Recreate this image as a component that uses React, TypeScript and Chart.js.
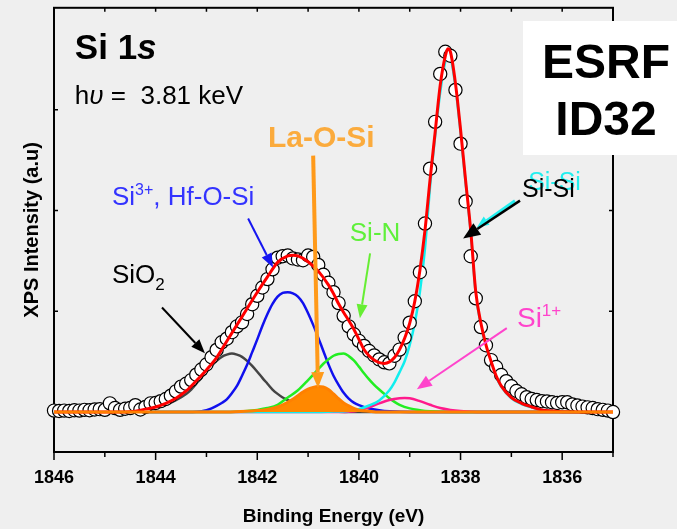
import React, { useEffect, useRef } from 'react';
import { Chart, registerables } from 'chart.js';

Chart.register(...registerables);

const FONT = '"Liberation Sans", Arial, Helvetica, sans-serif';

// ---- measured spectrum (binding energy in eV, intensity in a.u.) ----
const dataEnergies = [
  1846.0, 1845.9, 1845.8, 1845.7, 1845.6, 1845.5, 1845.4, 1845.3, 1845.2, 1845.1,
  1845.0, 1844.9, 1844.8, 1844.7, 1844.6, 1844.5, 1844.4, 1844.3, 1844.2, 1844.1,
  1844.0, 1843.9, 1843.8, 1843.7, 1843.6, 1843.5, 1843.4, 1843.3, 1843.2, 1843.1,
  1843.0, 1842.9, 1842.8, 1842.7, 1842.6, 1842.5, 1842.4, 1842.3, 1842.2, 1842.1,
  1842.0, 1841.9, 1841.8, 1841.7, 1841.6, 1841.5, 1841.4, 1841.3, 1841.2, 1841.1,
  1841.0, 1840.9, 1840.8, 1840.7, 1840.6, 1840.5, 1840.4, 1840.3, 1840.2, 1840.1,
  1840.0, 1839.9, 1839.8, 1839.7, 1839.6, 1839.5, 1839.4, 1839.3, 1839.2, 1839.1,
  1839.0, 1838.9, 1838.8, 1838.7, 1838.6, 1838.5, 1838.4, 1838.3, 1838.2, 1838.1,
  1838.0, 1837.9, 1837.8, 1837.7, 1837.6, 1837.5, 1837.4, 1837.3, 1837.2, 1837.1,
  1837.0, 1836.9, 1836.8, 1836.7, 1836.6, 1836.5, 1836.4, 1836.3, 1836.2, 1836.1,
  1836.0, 1835.9, 1835.8, 1835.7, 1835.6, 1835.5, 1835.4, 1835.3, 1835.2, 1835.1,
  1835.0,
];
const dataCounts = [
  4, 3, 4, 3, 5, 4, 6, 5, 7, 8,
  6, 24, 11, 6, 9, 11, 19, 7, 14, 24,
  25, 30, 36, 45, 57, 70, 78, 88, 103, 117,
  131, 151, 171, 192, 202, 220, 236, 247, 270, 297,
  320, 343, 366, 393, 425, 429, 431, 423, 420, 418,
  431, 427, 405, 378, 356, 330, 300, 265, 236, 214,
  196, 182, 168, 156, 145, 137, 134, 155, 172, 205,
  246, 305, 385, 519, 670, 799, 931, 992, 981, 887,
  739, 580, 429, 313, 234, 184, 143, 124, 102, 85,
  71, 58, 49, 41, 36, 33, 30, 29, 27, 25,
  27, 27, 21, 18, 15, 13, 11, 8, 6, 4,
  0,
];

// ---- total fit (red) ----
const fitEnergies = [
  1846, 1844.6, 1844.4, 1844.2, 1844.0, 1843.8, 1843.6, 1843.4, 1843.2, 1843.0,
  1842.8, 1842.6, 1842.4, 1842.2, 1842.0, 1841.8, 1841.6, 1841.4, 1841.3, 1841.2,
  1841.0, 1840.8, 1840.6, 1840.5, 1840.4, 1840.3, 1840.2, 1840.1, 1840.0, 1839.9,
  1839.8, 1839.7, 1839.6, 1839.5, 1839.4, 1839.3, 1839.2, 1839.1, 1839.0, 1838.9,
  1838.8, 1838.7, 1838.6, 1838.5, 1838.4, 1838.3, 1838.25, 1838.2, 1838.1, 1838.0,
  1837.9, 1837.8, 1837.7, 1837.6, 1837.5, 1837.4, 1837.3, 1837.2, 1837.0, 1836.8,
  1836.6, 1836.4, 1836.2, 1836.0, 1835,
];
const fitTotal = [
  0, 0, 2, 8, 14, 24, 38, 58, 86, 116,
  150, 195, 240, 285, 330, 372, 412, 430, 432, 430,
  414, 388, 350, 326, 298, 274, 252, 228, 200, 172,
  155, 143, 136, 134, 138, 150, 172, 203, 245, 305,
  390, 500, 640, 770, 900, 980, 1000, 992, 905, 778,
  637, 500, 330, 245, 185, 140, 100, 72, 40, 24,
  14, 6, 3, 1, 0,
];

// ---- SiO2 component (dark grey) ----
const sio2Energies = [
  1846, 1845.0, 1844.6, 1844.4, 1844.2, 1844.0, 1843.8, 1843.6, 1843.4, 1843.3,
  1843.2, 1843.1, 1843.0, 1842.9, 1842.8, 1842.7, 1842.6, 1842.5, 1842.4, 1842.3,
  1842.2, 1842.1, 1842.0, 1841.9, 1841.8, 1841.7, 1841.6, 1841.5, 1841.4, 1841.3,
  1841.2, 1841.0, 1840.8, 1840.6, 1840.4, 1840.0, 1835,
];
const sio2Values = [
  0, 0, 1, 3, 6, 11, 20, 33, 50, 62,
  78, 94, 111, 127, 141, 152, 158, 161, 158, 152,
  141, 127, 111, 94, 78, 62, 50, 40, 33, 26,
  20, 11, 5, 2, 1, 0, 0,
];

// ---- Si3+ / Hf-O-Si component (blue) ----
const si3Energies = [
  1846, 1843.6, 1843.2, 1843.0, 1842.9, 1842.8, 1842.7, 1842.6, 1842.5, 1842.4,
  1842.3, 1842.2, 1842.1, 1842.0, 1841.9, 1841.8, 1841.7, 1841.6, 1841.5, 1841.4,
  1841.3, 1841.2, 1841.1, 1841.0, 1840.9, 1840.8, 1840.7, 1840.6, 1840.5, 1840.4,
  1840.3, 1840.2, 1840.1, 1840.0, 1839.8, 1839.6, 1839.4, 1839.0, 1835,
];
const si3Values = [
  0, 0, 1, 5, 10, 17, 25, 35, 52, 72,
  100, 130, 165, 200, 237, 270, 298, 318, 328, 330,
  327, 318, 300, 272, 240, 205, 168, 132, 100, 75,
  53, 37, 26, 19, 10, 5, 2, 0, 0,
];

// ---- La-O-Si component (orange, filled) ----
const laEnergies = [
  1846, 1842.6, 1842.2, 1842.0, 1841.8, 1841.6, 1841.4, 1841.2, 1841.1, 1841.0,
  1840.9, 1840.8, 1840.7, 1840.6, 1840.5, 1840.4, 1840.3, 1840.2, 1840.1, 1840.0,
  1839.8, 1839.6, 1835,
];
const laValues = [
  0, 0, 2, 4, 7, 14, 27, 45, 55, 63,
  68, 70, 69, 62, 50, 37, 25, 17, 10, 5,
  2, 0, 0,
];

// ---- Si-N component (green) ----
const sinEnergies = [
  1846, 1842.6, 1842.2, 1842.0, 1841.8, 1841.6, 1841.4, 1841.2, 1841.0, 1840.8,
  1840.7, 1840.6, 1840.5, 1840.4, 1840.3, 1840.2, 1840.1, 1840.0, 1839.9, 1839.8,
  1839.7, 1839.6, 1839.5, 1839.4, 1839.3, 1839.2, 1839.0, 1838.8, 1838.6, 1838.2,
  1835,
];
const sinValues = [
  0, 0, 3, 6, 11, 20, 40, 60, 88, 118,
  133, 145, 155, 160, 161, 154, 142, 125, 107, 90,
  75, 62, 50, 38, 28, 20, 10, 5, 2, 0,
  0,
];

// ---- Si1+ component (pink) ----
const si1Energies = [
  1846, 1840.6, 1840.2, 1840.0, 1839.8, 1839.6, 1839.4, 1839.2, 1839.1, 1839.0,
  1838.8, 1838.6, 1838.4, 1838.2, 1838.0, 1837.6, 1835,
];
const si1Values = [
  0, 0, 1, 4, 13, 24, 33, 38, 39, 38,
  30, 20, 11, 6, 3, 0, 0,
];

// ---- Si-Si component (cyan) ----
const sisiEnergies = [
  1846, 1841.0, 1840.6, 1840.2, 1840.0, 1839.8, 1839.6, 1839.4, 1839.3, 1839.2,
  1839.1, 1839.0, 1838.9, 1838.8, 1838.7, 1838.6, 1838.5, 1838.4, 1838.3, 1838.25,
  1838.2, 1838.1, 1838.0, 1837.9, 1837.8, 1837.7, 1837.6, 1837.5, 1837.4, 1837.3,
  1837.2, 1837.0, 1836.8, 1836.6, 1836.4, 1836.2, 1836.0, 1835.6, 1835,
];
const sisiValues = [
  0, 0, 1, 3, 8, 18, 32, 60, 82, 110,
  140, 185, 245, 330, 450, 620, 760, 880, 965, 985,
  978, 895, 770, 630, 495, 325, 240, 180, 136, 97,
  70, 38, 22, 13, 6, 3, 1, 0, 0,
];

// ---- axes ----
const xMajorTicks = [1846, 1844, 1842, 1840, 1838, 1836];
const xMinorTicks = [1845, 1843, 1841, 1839, 1837, 1835];
const yTickValues = [0, 277.5, 555, 832.5];
const xMin = 1835;
const xMax = 1846;
const yMin = -110;
const yMax = 1113;

const pts = (xs: number[], ys: number[]) => xs.map((x, i) => ({ x, y: ys[i] }));

function arrow(ctx: CanvasRenderingContext2D, x1: number, y1: number, x2: number, y2: number,
  color: string, lw: number, hl: number, hw: number) {
  const ang = Math.atan2(y2 - y1, x2 - x1);
  const bx = x2 - hl * Math.cos(ang);
  const by = y2 - hl * Math.sin(ang);
  ctx.strokeStyle = color;
  ctx.lineWidth = lw;
  ctx.lineCap = 'butt';
  ctx.beginPath();
  ctx.moveTo(x1, y1);
  ctx.lineTo(bx, by);
  ctx.stroke();
  ctx.fillStyle = color;
  ctx.beginPath();
  ctx.moveTo(x2, y2);
  ctx.lineTo(bx + (hw / 2) * Math.sin(ang), by - (hw / 2) * Math.cos(ang));
  ctx.lineTo(bx - (hw / 2) * Math.sin(ang), by + (hw / 2) * Math.cos(ang));
  ctx.closePath();
  ctx.fill();
}

type Part = { text: string; font: string; color: string; dy?: number };
function drawParts(ctx: CanvasRenderingContext2D, x: number, y: number, parts: Part[]) {
  let cx = x;
  for (const p of parts) {
    ctx.font = p.font;
    ctx.fillStyle = p.color;
    ctx.fillText(p.text, cx, y + (p.dy || 0));
    cx += ctx.measureText(p.text).width;
  }
}

const decor = {
  id: 'decor',
  beforeDraw(chart: any) {
    const { ctx, width, height } = chart;
    ctx.save();
    ctx.fillStyle = '#efefef';
    ctx.fillRect(0, 0, width, height);
    ctx.restore();
  },
  beforeDatasetsDraw(chart: any) {
    const { ctx, chartArea: a, scales } = chart;
    const x = scales.x;
    const y = scales.y;
    ctx.save();
    ctx.strokeStyle = '#000';
    ctx.lineWidth = 2;
    ctx.strokeRect(a.left, a.top, a.right - a.left, a.bottom - a.top);
    ctx.lineWidth = 1.5;
    ctx.beginPath();
    xMajorTicks.forEach((v) => {
      const px = x.getPixelForValue(v);
      ctx.moveTo(px, a.bottom);
      ctx.lineTo(px, a.bottom + 8);
      ctx.moveTo(px, a.top);
      ctx.lineTo(px, a.top + 4);
    });
    xMinorTicks.forEach((v) => {
      const px = x.getPixelForValue(v);
      ctx.moveTo(px, a.bottom);
      ctx.lineTo(px, a.bottom + 5);
      ctx.moveTo(px, a.top);
      ctx.lineTo(px, a.top + 4);
    });
    yTickValues.forEach((v) => {
      const py = y.getPixelForValue(v);
      ctx.moveTo(a.left, py);
      ctx.lineTo(a.left + 4, py);
      ctx.moveTo(a.right, py);
      ctx.lineTo(a.right - 4, py);
    });
    ctx.stroke();
    ctx.restore();
  },
  afterDraw(chart: any) {
    const { ctx, scales } = chart;
    const X = (e: number) => scales.x.getPixelForValue(e);
    const Y = (v: number) => scales.y.getPixelForValue(v);
    ctx.save();
    ctx.textAlign = 'left';
    ctx.textBaseline = 'alphabetic';

    drawParts(ctx, X(1845.59), Y(972), [
      { text: 'Si 1', font: `bold 35px ${FONT}`, color: '#000' },
      { text: 's', font: `italic bold 35px ${FONT}`, color: '#000' },
    ]);
    drawParts(ctx, X(1845.59), Y(849), [
      { text: 'h', font: `26px ${FONT}`, color: '#000' },
      { text: 'υ', font: `italic 26px ${FONT}`, color: '#000' },
      { text: ' =  3.81 keV', font: `26px ${FONT}`, color: '#000' },
    ]);

    // La-O-Si
    drawParts(ctx, X(1841.79), Y(729), [
      { text: 'La-O-Si', font: `bold 30px ${FONT}`, color: '#fbab3d' },
    ]);
    arrow(ctx, X(1840.9), Y(706), X(1840.805), Y(66), '#ff9a1a', 4, 16, 13);

    // Si3+, Hf-O-Si
    drawParts(ctx, X(1844.86), Y(571), [
      { text: 'Si', font: `26px ${FONT}`, color: '#3333ff' },
      { text: '3+', font: `16px ${FONT}`, color: '#3333ff', dy: -10 },
      { text: ', Hf-O-Si', font: `26px ${FONT}`, color: '#3333ff' },
    ]);
    arrow(ctx, X(1842.18), Y(533), X(1841.69), Y(398), '#1515f0', 2, 14, 11);

    // SiO2
    drawParts(ctx, X(1844.86), Y(354), [
      { text: 'SiO', font: `26px ${FONT}`, color: '#000' },
      { text: '2', font: `17px ${FONT}`, color: '#000', dy: 7 },
    ]);
    arrow(ctx, X(1843.875), Y(288), X(1843.03), Y(162), '#000', 2, 14, 11);

    // Si-N
    drawParts(ctx, X(1840.18), Y(472), [
      { text: 'Si-N', font: `26px ${FONT}`, color: '#5ff03a' },
    ]);
    arrow(ctx, X(1839.78), Y(437), X(1839.98), Y(258), '#66ee33', 2, 14, 11);

    // Si-Si
    drawParts(ctx, X(1836.67), Y(610), [
      { text: 'Si-Si', font: `25px ${FONT}`, color: '#22eeee' },
    ]);
    drawParts(ctx, X(1836.79), Y(591), [
      { text: 'Si-Si', font: `25px ${FONT}`, color: '#000' },
    ]);
    arrow(ctx, X(1836.93), Y(582), X(1837.68), Y(508), '#22eeee', 3, 12, 10);
    arrow(ctx, X(1836.83), Y(582), X(1837.95), Y(478), '#000', 2.5, 17, 14);

    // Si1+
    drawParts(ctx, X(1836.89), Y(234), [
      { text: 'Si', font: `28px ${FONT}`, color: '#ff44cc' },
      { text: '1+', font: `17px ${FONT}`, color: '#ff44cc', dy: -11 },
    ]);
    arrow(ctx, X(1837.09), Y(231), X(1838.86), Y(63), '#ff44cc', 2, 15, 12);

    // ESRF box
    ctx.fillStyle = '#ffffff';
    ctx.fillRect(523, 21, 160, 134);
    ctx.fillStyle = '#000';
    ctx.textAlign = 'center';
    ctx.font = `bold 48px ${FONT}`;
    ctx.fillText('ESRF', 606, 78);
    ctx.fillText('ID32', 606, 135);
    ctx.restore();
  },
};

export default function App() {
  const ref = useRef<HTMLCanvasElement | null>(null);
  useEffect(() => {
    document.body.style.margin = '0';
    document.body.style.background = '#efefef';
    const canvas = ref.current;
    if (!canvas) return;
    const lineBase = {
      type: 'line' as const,
      pointRadius: 0,
      borderWidth: 2.5,
      fill: false,
      cubicInterpolationMode: 'monotone' as const,
    };
    const chart = new Chart(canvas, {
      type: 'line',
      data: {
        datasets: [
          {
            ...lineBase,
            label: 'La-O-Si',
            data: pts(laEnergies, laValues),
            borderColor: '#ff8000',
            backgroundColor: '#ff8800',
            borderWidth: 3,
            fill: 'origin',
            order: 0,
          },
          {
            ...lineBase,
            label: 'Fit',
            data: pts(fitEnergies, fitTotal),
            borderColor: '#ff0000',
            borderWidth: 3,
            order: 1,
          },
          {
            type: 'line',
            label: 'Data',
            data: pts(dataEnergies, dataCounts),
            showLine: false,
            pointRadius: 6.6,
            pointBorderWidth: 1.2,
            pointBackgroundColor: '#ffffff',
            pointBorderColor: '#000000',
            clip: false,
            order: 2,
          },
          { ...lineBase, label: 'Si-Si', data: pts(sisiEnergies, sisiValues), borderColor: '#10eeee', order: 3 },
          { ...lineBase, label: 'Si1+', data: pts(si1Energies, si1Values), borderColor: '#ff1a8c', order: 4 },
          { ...lineBase, label: 'Si-N', data: pts(sinEnergies, sinValues), borderColor: '#22ee22', order: 5 },
          { ...lineBase, label: 'Si3+', data: pts(si3Energies, si3Values), borderColor: '#1010ee', order: 6 },
          { ...lineBase, label: 'SiO2', data: pts(sio2Energies, sio2Values), borderColor: '#444444', order: 7 },
        ] as any,
      },
      options: {
        responsive: false,
        maintainAspectRatio: false,
        devicePixelRatio: 1,
        animation: false,
        events: [],
        layout: { padding: { left: 0, right: 64, top: 7, bottom: 0 } },
        plugins: { legend: { display: false }, tooltip: { enabled: false } },
        scales: {
          x: {
            type: 'linear',
            reverse: true,
            min: xMin,
            max: xMax,
            grid: { display: false, drawTicks: false },
            border: { display: false },
            afterBuildTicks: (s: any) => { s.ticks = xMajorTicks.map((v) => ({ value: v })); },
            afterFit: (s: any) => { s.height = 77; },
            ticks: {
              autoSkip: false,
              maxRotation: 0,
              padding: 15,
              color: '#000',
              font: { family: FONT, size: 18, weight: 'bold' },
              callback: (v: any) => String(v),
            },
            title: {
              display: true,
              text: 'Binding Energy (eV)',
              color: '#000',
              font: { family: FONT, size: 19, weight: 'bold' },
              padding: { top: 1, bottom: 1 },
            },
          },
          y: {
            type: 'linear',
            min: yMin,
            max: yMax,
            grid: { display: false, drawTicks: false },
            border: { display: false },
            afterBuildTicks: (s: any) => { s.ticks = yTickValues.map((v) => ({ value: v })); },
            afterFit: (s: any) => { s.width = 54; },
            ticks: { display: false },
            title: {
              display: true,
              text: 'XPS Intensity (a.u)',
              color: '#000',
              font: { family: FONT, size: 20, weight: 'bold' },
              padding: { top: 20, bottom: 0 },
            },
          },
        },
      } as any,
      plugins: [decor],
    });
    return () => chart.destroy();
  }, []);
  return (
    <div style={{ position: 'fixed', left: 0, top: 0, width: 677, height: 529, background: '#efefef' }}>
      <canvas ref={ref} width={677} height={529} style={{ display: 'block', width: 677, height: 529 }} />
    </div>
  );
}
